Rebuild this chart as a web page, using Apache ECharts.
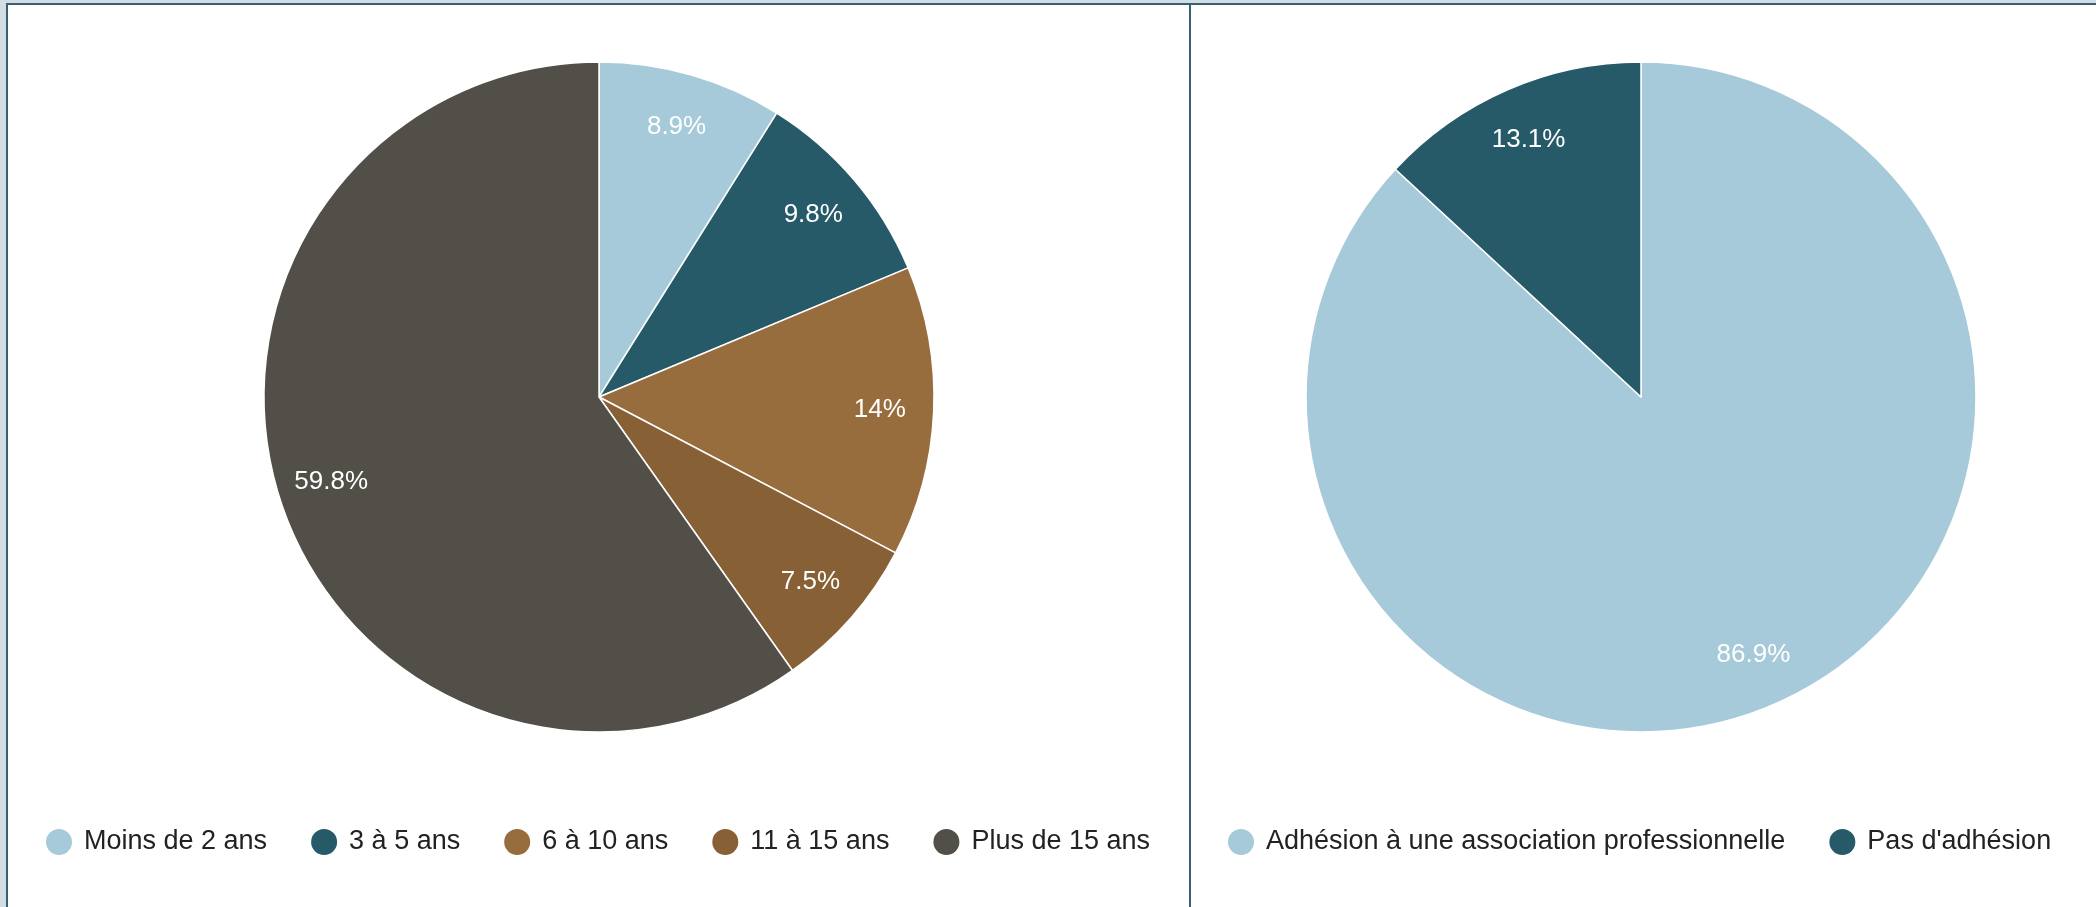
<!DOCTYPE html>
<html>
<head>
<meta charset="utf-8">
<script src="https://cdn.jsdelivr.net/npm/echarts@6/dist/echarts.min.js"></script>
<style>
  html, body { margin: 0; padding: 0; width: 2096px; height: 907px; overflow: hidden; background: #d3dde6; }
  #frame { position: absolute; left: 6px; top: 3px; width: 2090px; height: 904px; background: #fff;
           border-left: 2px solid #356170; border-top: 2px solid #356170; box-sizing: border-box; }
  #divider { position: absolute; left: 1189px; top: 3px; width: 2px; height: 904px; background: #356170; }
  #chart { position: absolute; left: 0; top: 0; width: 2096px; height: 907px; }
</style>
</head>
<body>
<div id="frame"></div>
<div id="divider"></div>
<div id="chart"></div>
<script>
// Data
const seniorityCategories = ['Moins de 2 ans', '3 à 5 ans', '6 à 10 ans', '11 à 15 ans', 'Plus de 15 ans'];
const seniorityValues = [8.9, 9.8, 14, 7.5, 59.8];
const seniorityColors = ['#a6cad9', '#275a69', '#986d3e', '#886036', '#524f48'];

const membershipCategories = ['Adhésion à une association professionnelle', "Pas d'adhésion"];
const membershipValues = [86.9, 13.1];
const membershipColors = ['#a6cad9', '#275a69'];

const FONT = '"Liberation Sans", Arial, sans-serif';

function buildData(cats, vals, cols) {
  return cats.map((c, i) => ({ name: c, value: vals[i], itemStyle: { color: cols[i] } }));
}

const R = 335;
const leftCenter = [599, 397];
const rightCenter = [1641, 397];

function pieSeries(center, data) {
  return [
    {
      type: 'pie', center: center, radius: [0, R], startAngle: 90, clockwise: true,
      data: data, silent: true,
      itemStyle: { borderColor: '#ffffff', borderWidth: 1.5 },
      label: { show: false }, labelLine: { show: false },
      emphasis: { disabled: true }
    },
    {
      type: 'pie', center: center, radius: [R * 0.66, R], startAngle: 90, clockwise: true,
      data: data.map(d => ({ name: d.name, value: d.value })), silent: true,
      legendHoverLink: false,
      itemStyle: { color: 'rgba(0,0,0,0)', borderWidth: 0 },
      label: { show: true, position: 'inside', formatter: '{c}%', color: '#ffffff',
               fontSize: 26, fontFamily: FONT },
      labelLine: { show: false },
      emphasis: { disabled: true },
      tooltip: { show: false }
    }
  ];
}

const legendCommon = {
  orient: 'horizontal', icon: 'circle', itemWidth: 28, itemHeight: 28, itemGap: 42,
  selectedMode: false,
  textStyle: { fontSize: 27, fontFamily: FONT, color: '#222222', padding: [0, 0, 0, 6] }
};

const chart = echarts.init(document.getElementById('chart'), null, { renderer: 'canvas' });
chart.setOption({
  animation: false,
  backgroundColor: 'transparent',
  legend: [
    Object.assign({}, legendCommon, { data: seniorityCategories, left: 39, top: 822 }),
    Object.assign({}, legendCommon, { data: membershipCategories, left: 1221, top: 822 })
  ],
  series: [
    ...pieSeries(leftCenter, buildData(seniorityCategories, seniorityValues, seniorityColors)),
    ...pieSeries(rightCenter, buildData(membershipCategories, membershipValues, membershipColors))
  ]
});
</script>
</body>
</html>
